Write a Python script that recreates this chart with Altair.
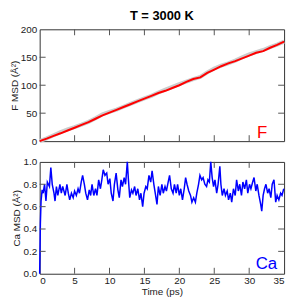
import altair as alt
import pandas as pd

# ---- data ----
f_time = list(range(0, 36))
f_msd = [0, 4.5, 9.5, 14, 19, 24, 29, 34, 40, 46, 51, 56, 61, 66, 71, 76,
         81, 86, 90, 95, 100, 106, 111, 114, 122, 128, 134, 139, 143, 148,
         153, 158, 161, 167, 172, 178]
f_ref = [0, 5, 10.5, 16, 21, 25, 29.5, 34.5, 41, 48, 52.5, 56.5, 61.5, 66.5, 71.5, 76.5,
         81, 87, 92, 97, 102, 106.5, 111, 115, 123, 130, 135, 139, 144, 150,
         155, 159, 163, 168, 172.5, 178]

ca_time = [0, 0.1, 0.2, 0.35, 0.5, 0.7, 0.9, 1.1, 1.4, 1.6, 1.8, 2.05, 2.2, 2.4,
           2.6, 2.9, 3.1, 3.3, 3.65, 3.9, 4.1, 4.3, 4.55, 4.8, 5.0, 5.25, 5.5,
           5.7, 5.95, 6.15, 6.4, 6.6, 6.85, 7.1, 7.3, 7.5, 7.75, 8.0, 8.2, 8.45,
           8.7, 8.9, 9.1, 9.35, 9.6, 9.8, 10.05, 10.25, 10.5, 10.7, 10.95, 11.2,
           11.4, 11.65, 11.85, 12.1, 12.3, 12.55, 12.7, 12.9, 13.15, 13.35, 13.6,
           13.8, 14.05, 14.3, 14.5, 14.75, 14.95, 15.2, 15.4, 15.65, 15.9, 16.1,
           16.35, 16.55, 16.8, 17.0, 17.25, 17.5, 17.7, 17.95, 18.15, 18.4, 18.6,
           18.85, 19.1, 19.3, 19.55, 19.75, 20.0, 20.2, 20.45, 20.7, 20.9, 21.1,
           21.35, 21.6, 21.8, 22.05, 22.3, 22.5, 22.75, 22.95, 23.2, 23.4, 23.65,
           23.9, 24.1, 24.3, 24.5, 24.7, 24.9, 25.1, 25.35, 25.55, 25.8, 25.95,
           26.15, 26.4, 26.6, 26.85, 27.05, 27.3, 27.5, 27.75, 28.0, 28.2, 28.45,
           28.65, 28.9, 29.1, 29.35, 29.6, 29.8, 30.05, 30.25, 30.5, 30.7, 30.95,
           31.15, 31.4, 31.65, 31.8, 32.0, 32.2, 32.4, 32.65, 32.85, 33.1, 33.3,
           33.55, 33.8, 34.0, 34.25, 34.5, 34.7, 34.95]
ca_msd = [0.0, 0.45, 0.65, 0.75, 0.72, 0.80, 0.65, 0.82, 0.78, 0.95, 0.80, 0.72,
          0.65, 0.78, 0.70, 0.80, 0.72, 0.78, 0.70, 0.80, 0.72, 0.66, 0.72, 0.68,
          0.74, 0.70, 0.76, 0.72, 0.82, 0.88, 0.80, 0.72, 0.66, 0.75, 0.70, 0.80,
          0.70, 0.76, 0.70, 0.84, 0.76, 0.84, 0.93, 0.88, 0.90, 0.80, 0.85, 0.72,
          0.65, 0.80, 0.90, 0.75, 0.68, 0.84, 0.78, 0.86, 0.80, 1.00, 0.85, 0.68,
          0.75, 0.72, 0.78, 0.70, 0.76, 0.66, 0.72, 0.60, 0.72, 0.78, 0.76, 0.88,
          0.82, 0.92, 0.80, 0.72, 0.62, 0.78, 0.70, 0.80, 0.72, 0.78, 0.74, 0.82,
          0.88, 0.76, 0.72, 0.80, 0.72, 0.80, 0.70, 0.76, 0.66, 0.76, 0.86, 0.80,
          0.74, 0.70, 0.64, 0.68, 0.64, 0.72, 0.80, 0.88, 0.84, 0.86, 0.80, 0.78,
          0.84, 0.82, 1.00, 0.86, 0.78, 0.84, 0.72, 0.80, 0.96, 0.80, 0.70, 0.76,
          0.70, 0.74, 0.66, 0.72, 0.64, 0.76, 0.70, 0.84, 0.74, 0.80, 0.70, 0.82,
          0.76, 0.84, 0.72, 0.80, 0.76, 0.82, 0.86, 0.74, 0.80, 0.70, 0.62, 0.56,
          0.70, 0.76, 0.80, 0.72, 0.76, 0.68, 0.80, 0.84, 0.64, 0.70, 0.66, 0.72,
          0.70, 0.76]

x_ticks = [5, 10, 15, 20, 25, 30]
x_labels = [0, 5, 10, 15, 20, 25, 30, 35]
f_yticks = [50, 100, 150]
f_ylabels = [0, 50, 100, 150, 200]
ca_yticks = [0.2, 0.4, 0.6, 0.8]
ca_ylabels = [0, 0.2, 0.4, 0.6, 0.8, 1.0]

W, H1, H2 = 247, 113, 113
FONT = "Liberation Sans"
TICK_COLOR = "#555555"

f_df = pd.DataFrame({"t": f_time, "msd": f_msd, "ref": f_ref})
ca_df = pd.DataFrame({"t": ca_time, "msd": ca_msd})
xt_df = pd.DataFrame({"t": x_ticks})
fyt_df = pd.DataFrame({"v": f_yticks})
cyt_df = pd.DataFrame({"v": ca_yticks})

xscale = alt.Scale(domain=[0, 35], nice=False, zero=False)
fscale = alt.Scale(domain=[0, 200], nice=False)
cscale = alt.Scale(domain=[0, 1.0], nice=False)

top_xaxis = None
bot_xaxis = alt.Axis(values=x_labels, ticks=False, domain=False, grid=False,
                     labelOverlap=False, labelPadding=2, title="Time (ps)", titlePadding=1)
f_yaxis = alt.Axis(values=f_ylabels, ticks=False, domain=False, grid=False,
                   labelOverlap=False, labelPadding=3, title="F MSD (Å²)", titlePadding=1)
ca_yaxis = alt.Axis(values=ca_ylabels, format=".1f", ticks=False, domain=False, grid=False,
                    labelOverlap=False, labelPadding=3, title="Ca MSD (Å²)", titlePadding=1)


def tick_layers(yt_df, yscale, xaxis, yaxis, H):
    xb = alt.Chart(xt_df).mark_rule(color=TICK_COLOR, strokeWidth=1).encode(
        x=alt.X("t:Q", scale=xscale, axis=xaxis), y=alt.value(H), y2=alt.value(H - 6))
    xt = alt.Chart(xt_df).mark_rule(color=TICK_COLOR, strokeWidth=1).encode(
        x=alt.X("t:Q", scale=xscale, axis=xaxis), y=alt.value(0), y2=alt.value(6))
    yl = alt.Chart(yt_df).mark_rule(color=TICK_COLOR, strokeWidth=1).encode(
        y=alt.Y("v:Q", scale=yscale, axis=yaxis), x=alt.value(0), x2=alt.value(6))
    yr = alt.Chart(yt_df).mark_rule(color=TICK_COLOR, strokeWidth=1).encode(
        y=alt.Y("v:Q", scale=yscale, axis=yaxis), x=alt.value(W), x2=alt.value(W - 6))
    return [xb, xt, yl, yr]


top_base = alt.Chart(f_df)
grey = top_base.mark_line(color="#cccccc", strokeWidth=4).encode(
    x=alt.X("t:Q", scale=xscale, axis=top_xaxis),
    y=alt.Y("ref:Q", scale=fscale, axis=f_yaxis),
)
red = top_base.mark_line(color="#ff0000", strokeWidth=2).encode(
    x=alt.X("t:Q", scale=xscale, axis=top_xaxis),
    y=alt.Y("msd:Q", scale=fscale, axis=f_yaxis))
f_label = alt.Chart(pd.DataFrame({"s": ["F"]})).mark_text(
    color="#ff0000", fontSize=17, align="right", baseline="alphabetic", font=FONT
).encode(x=alt.value(W - 17), y=alt.value(H1 - 3), text="s:N")

top = alt.layer(grey, red, *tick_layers(fyt_df, fscale, top_xaxis, f_yaxis, H1),
                f_label).properties(
    width=W, height=H1,
    title=alt.TitleParams("T = 3000 K", fontSize=13, fontWeight="bold", font=FONT,
                          anchor="middle", offset=1, color="#000000"),
)

blue = alt.Chart(ca_df).mark_line(color="#0000ff", strokeWidth=1.5).encode(
    x=alt.X("t:Q", scale=xscale, axis=bot_xaxis),
    y=alt.Y("msd:Q", scale=cscale, axis=ca_yaxis),
)
ca_label = alt.Chart(pd.DataFrame({"s": ["Ca"]})).mark_text(
    color="#0000ff", fontSize=17, align="right", baseline="alphabetic", font=FONT
).encode(x=alt.value(W - 7), y=alt.value(H2 - 5), text="s:N")

bottom = alt.layer(blue, *tick_layers(cyt_df, cscale, bot_xaxis, ca_yaxis, H2),
                   ca_label).properties(width=W, height=H2)

chart = alt.vconcat(top, bottom, spacing=6).properties(
    padding={"left": 0, "top": 0, "right": 0, "bottom": 0}
).configure_view(stroke="#333333", strokeWidth=1).configure_axis(
    labelFont=FONT, titleFont=FONT, labelFontSize=10, titleFontSize=10,
    labelColor="#222222", titleColor="#222222", titleFontWeight="normal",
)

chart.save("out.html", embed_options={"renderer": "svg", "actions": False})
